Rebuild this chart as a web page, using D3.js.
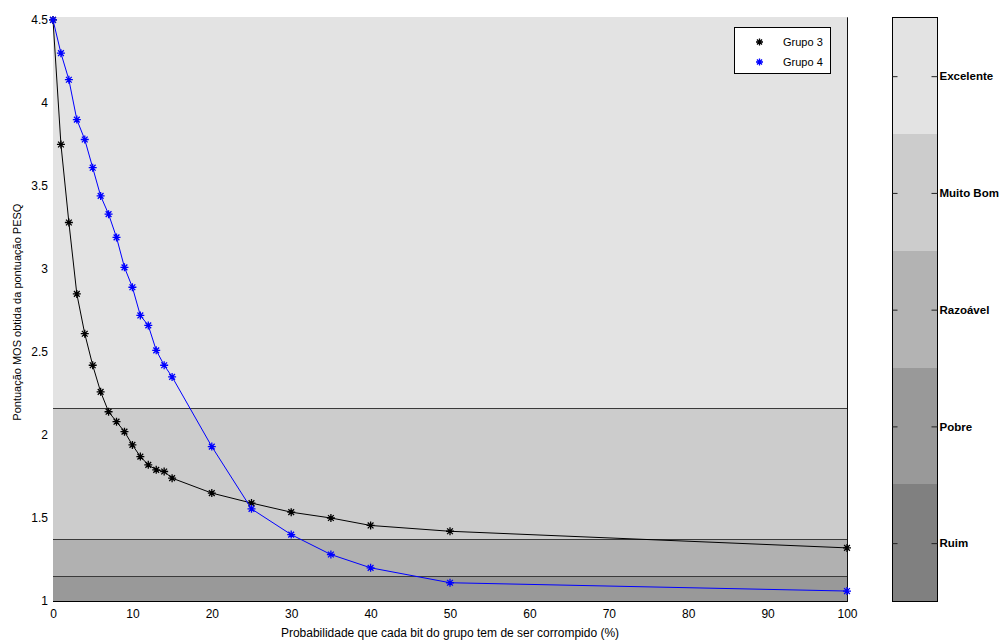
<!DOCTYPE html>
<html>
<head>
<meta charset="utf-8">
<script src="https://cdn.jsdelivr.net/npm/d3@7"></script>
<style>
  body { margin: 0; background: #fff; }
  svg { display: block; }
  text { font-family: "Liberation Sans", Arial, sans-serif; fill: #000; }
</style>
</head>
<body>
<svg id="chart" width="1000" height="643"></svg>
<script>
// Bit error probability per group (%)
const errorRates = [0, 1, 2, 3, 4, 5, 6, 7, 8, 9, 10, 11, 12, 13, 14, 15, 20, 25, 30, 35, 40, 50, 100];
// MOS score obtained from the PESQ score
const grupo3 = [4.50, 3.75, 3.28, 2.85, 2.61, 2.42, 2.26, 2.14, 2.08, 2.02, 1.94, 1.87, 1.82, 1.79, 1.78, 1.74, 1.65, 1.59, 1.535, 1.50, 1.455, 1.42, 1.32];
const grupo4 = [4.50, 4.30, 4.14, 3.90, 3.78, 3.61, 3.44, 3.33, 3.19, 3.01, 2.89, 2.72, 2.66, 2.51, 2.42, 2.35, 1.93, 1.555, 1.40, 1.28, 1.20, 1.11, 1.06];
const seriesNames = ["Grupo 3", "Grupo 4"];

// Quality bands (lower limit of each band on the PESQ/MOS axis)
const bandLimits = [1.153, 1.376, 2.16];
const qualityLabels = ["Ruim", "Pobre", "Razoável", "Muito Bom", "Excelente"];

const xTicks = [0, 10, 20, 30, 40, 50, 60, 70, 80, 90, 100];
const yTicks = [1, 1.5, 2, 2.5, 3, 3.5, 4, 4.5];

const svg = d3.select("#chart");

const plot = { left: 53, right: 847, top: 17.3, bottom: 601 };
const x = d3.scaleLinear().domain([0, 100]).range([plot.left, plot.right]);
const y = d3.scaleLinear().domain([1, 4.516]).range([plot.bottom, plot.top]);

// ---- background quality bands ----
const bandFill = ["#999999", "#b1b1b1", "#cccccc", "#e3e3e3"];
const bandEdges = [1, ...bandLimits, 4.516];
const bands = d3.range(bandFill.length).map(i => ({ lo: bandEdges[i], hi: bandEdges[i + 1], fill: bandFill[i] }));

svg.append("g").selectAll("rect").data(bands).join("rect")
  .attr("x", x(0))
  .attr("width", x(100) - x(0))
  .attr("y", d => y(d.hi))
  .attr("height", d => y(d.lo) - y(d.hi))
  .attr("fill", d => d.fill)
  .attr("shape-rendering", "crispEdges");

svg.append("g").selectAll("line").data(bandLimits).join("line")
  .attr("x1", x(0)).attr("x2", x(100))
  .attr("y1", d => Math.round(y(d)) + 0.5)
  .attr("y2", d => Math.round(y(d)) + 0.5)
  .attr("stroke", "#3a3a3a")
  .attr("stroke-width", 1);

// ---- axis frame (bottom and right edges) ----
svg.append("line")
  .attr("x1", x(0)).attr("x2", x(100) + 0.5)
  .attr("y1", plot.bottom + 0.5).attr("y2", plot.bottom + 0.5)
  .attr("stroke", "#000");
svg.append("line")
  .attr("x1", Math.round(x(100)) + 0.5).attr("x2", Math.round(x(100)) + 0.5)
  .attr("y1", plot.top).attr("y2", plot.bottom + 1)
  .attr("stroke", "#111");

// ---- axes ----
const xAxis = svg.append("g")
  .attr("transform", `translate(0,${plot.bottom})`)
  .call(d3.axisBottom(x).tickValues(xTicks).tickSize(0).tickPadding(8).tickFormat(d3.format("d")));
xAxis.select(".domain").remove();
xAxis.selectAll("text").attr("font-size", 12).attr("font-family", "Liberation Sans, Arial, sans-serif").attr("fill", "#000");

const yAxis = svg.append("g")
  .attr("transform", `translate(${plot.left},0)`)
  .call(d3.axisLeft(y).tickValues(yTicks).tickSize(0).tickPadding(5).tickFormat(d => String(d)));
yAxis.select(".domain").remove();
yAxis.selectAll("text").attr("font-size", 12).attr("font-family", "Liberation Sans, Arial, sans-serif").attr("fill", "#000");

svg.append("text")
  .attr("x", (plot.left + plot.right) / 2)
  .attr("y", 637)
  .attr("text-anchor", "middle")
  .attr("font-size", 12)
  .text("Probabilidade que cada bit do grupo tem de ser corrompido (%)");

svg.append("text")
  .attr("transform", `translate(21,${(plot.top + plot.bottom) / 2 + 3}) rotate(-90)`)
  .attr("text-anchor", "middle")
  .attr("font-size", 11)
  .text("Pontuação MOS obtida da pontuação PESQ");

// ---- series ----
const seriesColors = ["#000000", "#0000ff"];
const seriesData = [grupo3, grupo4].map((vals, i) => ({
  name: seriesNames[i],
  color: seriesColors[i],
  points: errorRates.map((r, j) => ({ r, v: vals[j] }))
}));

const line = d3.line().x(d => x(d.r)).y(d => y(d.v));

// asterisk marker: plus sign combined with a cross
function asterisk(r) {
  const k = r * 0.72;
  return `M0,${-r}V${r}M${-r},0H${r}M${-k},${-k}L${k},${k}M${-k},${k}L${k},${-k}`;
}

const gSeries = svg.append("g").selectAll("g").data(seriesData).join("g");
gSeries.append("path")
  .attr("d", d => line(d.points))
  .attr("fill", "none")
  .attr("stroke", d => d.color)
  .attr("stroke-width", 1);
gSeries.each(function (s) {
  d3.select(this).selectAll("path.marker").data(s.points).join("path")
    .attr("class", "marker")
    .attr("transform", d => `translate(${x(d.r)},${y(d.v)})`)
    .attr("d", asterisk(4))
    .attr("fill", "none")
    .attr("stroke", s.color)
    .attr("stroke-width", 1.3);
});

// ---- legend ----
const legend = svg.append("g").attr("transform", "translate(734.5,27.5)");
legend.append("rect")
  .attr("width", 96).attr("height", 46)
  .attr("fill", "#fff").attr("stroke", "#000");
const legendRows = legend.selectAll("g").data(seriesData).join("g")
  .attr("transform", (d, i) => `translate(0,${14.5 + i * 20})`);
legendRows.append("path")
  .attr("transform", "translate(25,0)")
  .attr("d", asterisk(3.5))
  .attr("fill", "none")
  .attr("stroke", d => d.color)
  .attr("stroke-width", 1.3);
legendRows.append("text")
  .attr("x", 48.5).attr("y", 4)
  .attr("font-size", 11)
  .text(d => d.name);

// ---- quality colour bar ----
const cb = { left: 892, right: 937, top: 17.3, bottom: 601 };
const cbScale = d3.scaleLinear().domain([0.5, qualityLabels.length + 0.5]).range([cb.bottom, cb.top]);
const cbFill = ["#808080", "#999999", "#b3b3b3", "#cccccc", "#e3e3e3"];
const cbData = qualityLabels.map((label, i) => ({ label, k: i + 1, fill: cbFill[i] }));

svg.append("g").selectAll("rect").data(cbData).join("rect")
  .attr("x", cb.left)
  .attr("width", cb.right - cb.left)
  .attr("y", d => cbScale(d.k + 0.5))
  .attr("height", d => cbScale(d.k - 0.5) - cbScale(d.k + 0.5))
  .attr("fill", d => d.fill)
  .attr("shape-rendering", "crispEdges");

svg.append("rect")
  .attr("x", cb.left + 0.5).attr("y", Math.round(cb.top) + 0.5)
  .attr("width", cb.right - cb.left).attr("height", Math.round(cb.bottom - cb.top))
  .attr("fill", "none").attr("stroke", "#000");

const tickVals = cbData.map(d => d.k);
const cbLeftAxis = svg.append("g")
  .attr("transform", `translate(${cb.left + 0.5},0.5)`)
  .call(d3.axisLeft(cbScale).tickValues(tickVals).tickSizeInner(-5).tickSizeOuter(0).tickFormat(""));
cbLeftAxis.select(".domain").remove();
cbLeftAxis.selectAll("line").attr("stroke", "#222");

const cbRightAxis = svg.append("g")
  .attr("transform", `translate(${cb.right + 0.5},0.5)`)
  .call(d3.axisRight(cbScale).tickValues(tickVals).tickSizeInner(-6).tickSizeOuter(0).tickPadding(2)
    .tickFormat(k => qualityLabels[k - 1]));
cbRightAxis.select(".domain").remove();
cbRightAxis.selectAll("line").attr("stroke", "#222");
cbRightAxis.selectAll("text")
  .attr("font-size", 11.5)
  .attr("font-weight", "bold")
  .attr("font-family", "Liberation Sans, Arial, sans-serif")
  .attr("fill", "#000");
</script>
</body>
</html>
